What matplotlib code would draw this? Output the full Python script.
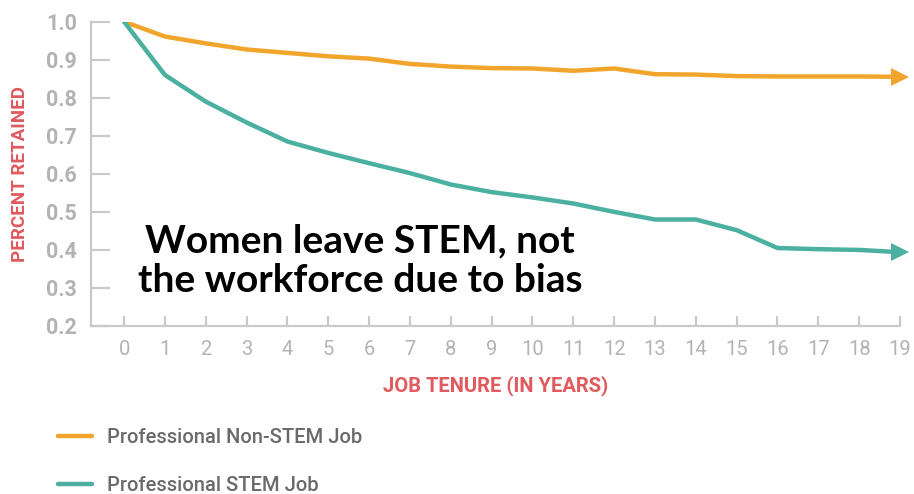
import matplotlib
matplotlib.use("Agg")
import matplotlib.pyplot as plt

years = list(range(20))
non_stem = [1.0, 0.961, 0.943, 0.927, 0.918, 0.909, 0.903, 0.889, 0.882, 0.878,
            0.877, 0.871, 0.877, 0.862, 0.861, 0.857, 0.856, 0.856, 0.856, 0.855]
stem = [1.0, 0.86, 0.79, 0.735, 0.685, 0.655, 0.628, 0.602, 0.572, 0.552,
        0.538, 0.522, 0.50, 0.48, 0.48, 0.452, 0.405, 0.402, 0.40, 0.394]
y_ticks = [0.2, 0.3, 0.4, 0.5, 0.6, 0.7, 0.8, 0.9, 1.0]
series_labels = ["Professional Non-STEM Job", "Professional STEM Job"]
annotation = "Women leave STEM, not\nthe workforce due to bias"

ORANGE = "#F1A52C"
TEAL = "#4BB0A0"
GREY = "#c9c9c9"
LABEL_GREY = "#b3b3b3"
RED = "#E05A5E"
FAM = ["Roboto", "DejaVu Sans"]

fig = plt.figure(figsize=(9.14, 4.94), dpi=100)
ax = fig.add_axes([91/914, 1-326/494, 809/914, (326-21.7)/494])

l1, = ax.plot(years, non_stem, color=ORANGE, lw=3.2, solid_capstyle="round",
              label=series_labels[0])
l2, = ax.plot(years, stem, color=TEAL, lw=3.2, solid_capstyle="round",
              label=series_labels[1])
ax.plot([years[-1]], [non_stem[-1]], marker=">", ms=13, color=ORANGE, clip_on=False, mew=0)
ax.plot([years[-1]], [stem[-1]], marker=">", ms=13, color=TEAL, clip_on=False, mew=0)

ax.set_xlim(-0.81, 19.0)
ax.set_ylim(0.2, 1.0)
ax.set_xticks(years)
ax.set_xticklabels([str(y) for y in years], family=FAM,
                   fontsize=14.5, color=LABEL_GREY)
ax.set_yticks(y_ticks)
ax.set_yticklabels([f"{v:.1f}" for v in y_ticks], family=FAM,
                   fontsize=15.5, fontweight="bold", color=LABEL_GREY)

for s in ["top", "right"]:
    ax.spines[s].set_visible(False)
for s in ["left", "bottom"]:
    ax.spines[s].set_color(GREY)
    ax.spines[s].set_linewidth(1.6)

ax.tick_params(axis="y", direction="in", length=14, width=1.6, color=GREY, pad=10)
ax.tick_params(axis="x", direction="in", length=7, width=1.6, color=GREY, pad=10)

ax.set_xlabel("JOB TENURE (IN YEARS)", color=RED, fontsize=14.5, fontweight="bold",
              family=FAM, labelpad=12)
ax.set_ylabel("PERCENT RETAINED", color=RED, fontsize=13.5, fontweight="bold",
              family=FAM)
ax.yaxis.set_label_coords(-0.077, 0.5)

ax.text(5.78, 0.371, annotation, ha="center", va="center", fontsize=28,
        fontweight="bold", family=["Lato", "DejaVu Sans"], color="black",
        linespacing=1.15)

fig.legend(handles=[l1, l2], loc="upper left", bbox_to_anchor=(58/914, 1-428/494),
           frameon=False, labelcolor="#6a6a6a", handlelength=1.7,
           handletextpad=0.75, labelspacing=1.45, borderpad=0, borderaxespad=0,
           prop={"family": FAM, "size": 14.5, "weight": "medium"})

fig.savefig("out.png", dpi=100)
